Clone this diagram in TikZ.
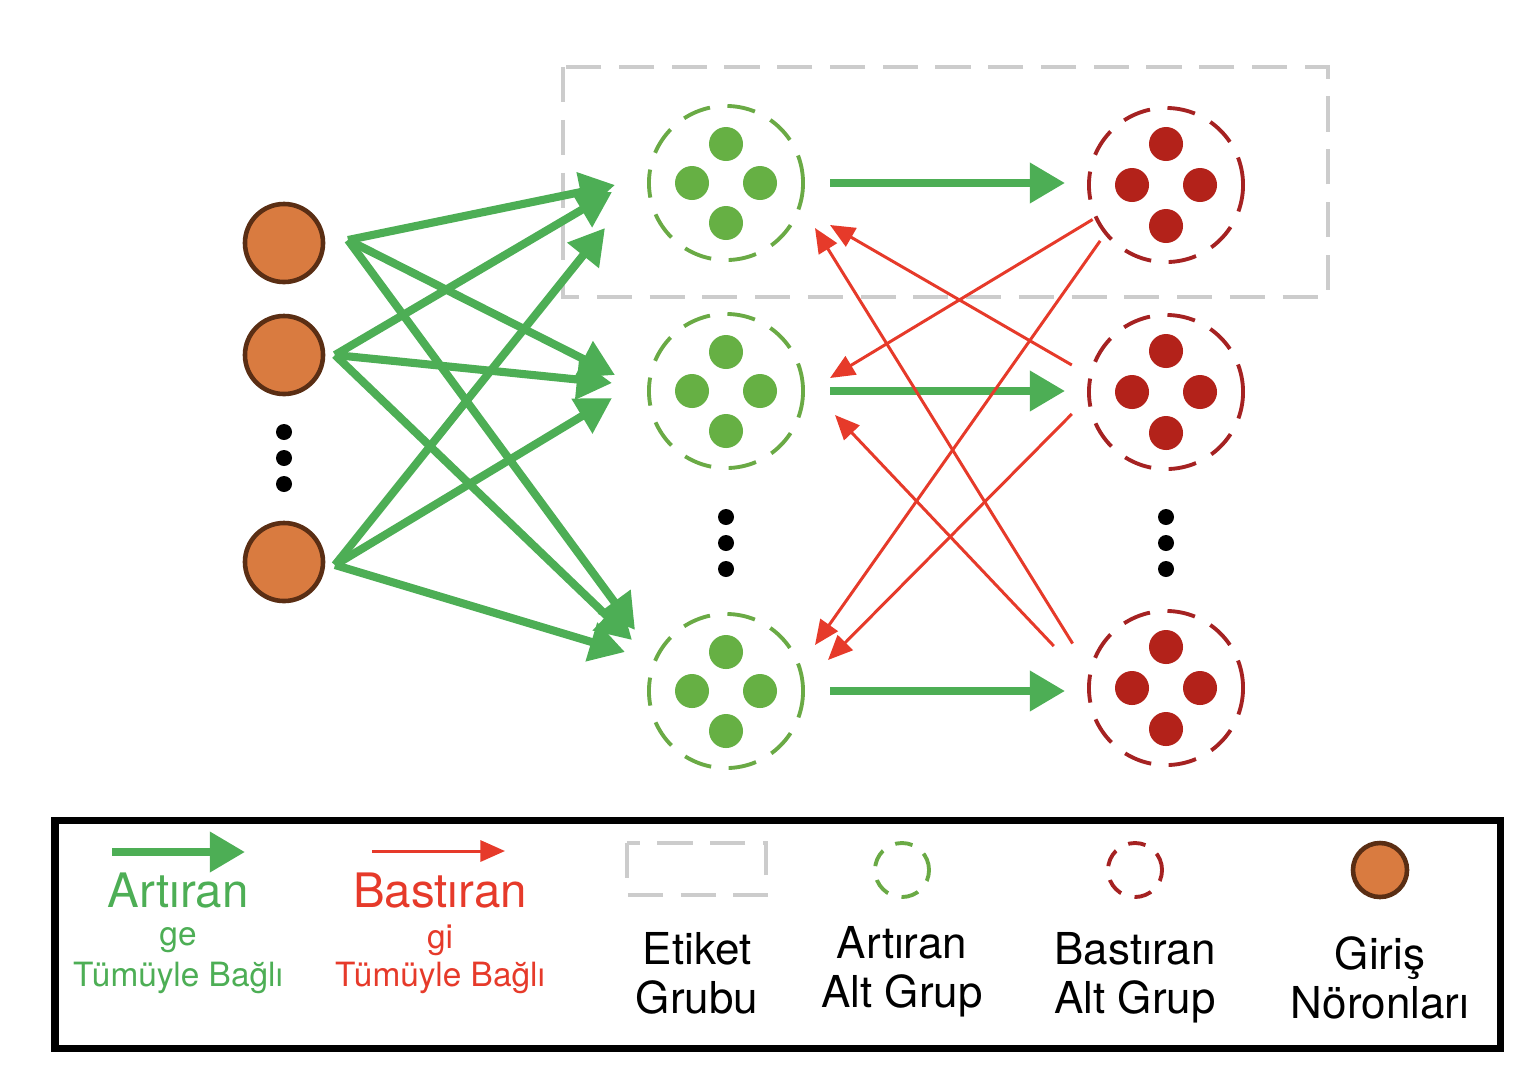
\documentclass[tikz,border=0pt]{standalone}
\usepackage{fontspec}
\setmainfont{TeX Gyre Heros}
\usetikzlibrary{arrows.meta}
\definecolor{exc}{HTML}{4DAE55}
\definecolor{inh}{HTML}{E63A2A}
\definecolor{gdot}{HTML}{66B044}
\definecolor{rdot}{HTML}{B3221A}
\definecolor{gring}{HTML}{6AAA45}
\definecolor{rring}{HTML}{A52222}
\definecolor{orng}{HTML}{D97B40}
\definecolor{brwn}{HTML}{5A2E14}
\begin{document}
\begin{tikzpicture}[x=0.01cm,y=-0.01cm,
  excarrow/.style={exc, line width=2.3pt, -{Triangle[length=10pt,width=11pt]}},
  inharrow/.style={inh, line width=0.85pt, -{Triangle[length=7pt,width=6pt]}},
  neuron/.style={circle, draw=brwn, line width=1.3pt, fill=orng, minimum size=0.78cm, inner sep=0pt},
  exgroup/.style={circle, draw=gring, dashed, dash pattern=on 8pt off 5pt, line width=1.1pt, minimum size=1.54cm, inner sep=0pt},
  ingroup/.style={circle, draw=rring, dashed, dash pattern=on 8pt off 5pt, line width=1.1pt, minimum size=1.54cm, inner sep=0pt},
  gd/.style={circle, fill=gdot, minimum size=0.34cm, inner sep=0pt},
  rd/.style={circle, fill=rdot, minimum size=0.34cm, inner sep=0pt},
  vdot/.style={circle, fill=black, minimum size=0.16cm, inner sep=0pt},
  lbl/.style={align=center, font=\fontsize{12.5}{15}\selectfont},
  small/.style={font=\fontsize{9.5}{11}\selectfont},
]
\useasboundingbox (0,0) rectangle (1540,1084);

% --- label group ---
\draw[gray!40, line width=1.1pt, dash pattern=on 10pt off 5pt] (563,67) rectangle (1328,297);

% --- input neurons ---
\node[neuron] (in1) at (284,243) {};
\node[neuron] (in2) at (284,355) {};
\node[neuron] (in3) at (284,562) {};
\foreach \y in {432,458,484} \node[vdot] at (284,\y) {};

% --- subgroups ---
\foreach \n/\y in {1/183,2/391,3/691} {
  \node[exgroup] (g\n) at (726,\y) {};
  \foreach \dx/\dy in {0/-39,-34/0,34/0,0/40}
    \node[gd] at (726+\dx,\y+\dy) {};
}
\foreach \n/\y in {1/185,2/392,3/688} {
  \node[ingroup] (r\n) at (1166,\y) {};
  \foreach \dx/\dy in {0/-41,-34/0,34/0,0/41}
    \node[rd] at (1166+\dx,\y+\dy) {};
}
\foreach \y in {517,543,569} {
  \node[vdot] at (726,\y) {};
  \node[vdot] at (1166,\y) {};
}

% --- excitatory connections ---
\coordinate (o1) at (348,240);
\coordinate (o2) at (335,355);
\coordinate (o3) at (335,565);
\draw[excarrow] (o1) -- (615,185);
\draw[excarrow] (o1) -- (615,375);
\draw[excarrow] (o1) -- (635,630);
\draw[excarrow] (o2) -- (612,192);
\draw[excarrow] (o2) -- (612,383);
\draw[excarrow] (o2) -- (632,640);
\draw[excarrow] (o3) -- (605,228);
\draw[excarrow] (o3) -- (612,398);
\draw[excarrow] (o3) -- (625,652);
\foreach \n in {1,2,3}
  \draw[excarrow] ([xshift=0.25cm]g\n.east) -- ([xshift=-0.22cm]g\n.east -| r\n.west);

% --- inhibitory connections ---
\draw[inharrow] (r1.-150) ++(-5,-5) -- (830,378);
\draw[inharrow] (r1.-135) ++(-10,0) -- (815,645);
\draw[inharrow] (r2.160) ++(-20,0) -- (830,225);
\draw[inharrow] (r2.-160) ++(-20,-5) -- (828,660);
\draw[inharrow] (r3.150) ++(-25,-5) -- (815,228);
\draw[inharrow] (r3.160) ++(-38,-15) -- (835,415);

% --- legend ---
\draw[black, line width=2pt] (55,820) rectangle (1500,1048);
\draw[excarrow] (112,852) -- (245,852);
\node[exc, font=\fontsize{13.5}{16}\selectfont] (la) at (178,891) {Artıran};
\node[exc, small] (lb) at (178,940) {ge};
\node[exc, small] (lb2) at (178,978) {Tümüyle Bağlı};
\draw[inharrow] (372,851) -- (505,851);
\node[inh, font=\fontsize{13.5}{16}\selectfont] (lc) at (440,891) {Bastıran};
\node[inh, small] (ld) at (440,940) {gi};
\node[inh, small] (ld2) at (440,978) {Tümüyle Bağlı};
\draw[gray!40, line width=1.1pt, dash pattern=on 10pt off 5pt] (627,843) rectangle (766,895);
\node[lbl] (le) at (697,973) {Etiket\\[-1pt]Grubu};
\node[exgroup, minimum size=0.54cm, dash pattern=on 5pt off 4pt] (lf) at (902,870) {};
\node[lbl] (lg) at (902,972) {Artıran\\[-1pt]Alt Grup};
\node[ingroup, minimum size=0.54cm, dash pattern=on 5pt off 4pt] (lh) at (1135,870) {};
\node[lbl] (li) at (1135,978) {Bastıran\\[-1pt]Alt Grup};
\node[neuron, minimum size=0.54cm] (lj) at (1380,870) {};
\node[lbl] (lk) at (1380,978) {Giriş\\[-1pt]Nöronları};
\end{tikzpicture}
\end{document}
